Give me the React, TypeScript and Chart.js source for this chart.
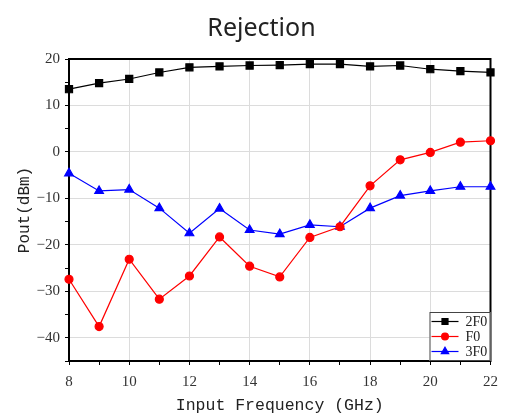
import React, { useEffect, useRef } from "react";
import { Chart, registerables } from "chart.js";
import { drawPoint } from "chart.js/helpers";

Chart.register(...registerables);

const frequencies = [8, 9, 10, 11, 12, 13, 14, 15, 16, 17, 18, 19, 20, 21, 22];
const series2F0 = [13.5, 14.8, 15.7, 17.1, 18.2, 18.4, 18.6, 18.7, 18.9, 18.9, 18.4, 18.6, 17.8, 17.4, 17.1];
const seriesF0 = [-27.4, -37.6, -23.1, -31.7, -26.7, -18.3, -24.6, -26.9, -18.4, -16.1, -7.3, -1.7, -0.1, 2.1, 2.4];
const series3F0 = [-4.6, -8.4, -8.1, -12.1, -17.5, -12.2, -16.8, -17.7, -15.7, -16.1, -12.1, -9.4, -8.4, -7.5, -7.5];
const seriesNames = ["2F0", "F0", "3F0"];

const frame = {
  id: "frame",
  beforeDatasetsDraw(chart: any) {
    const { ctx, chartArea } = chart;
    ctx.save();
    ctx.strokeStyle = "#000";
    ctx.lineWidth = 2;
    ctx.strokeRect(chartArea.left, chartArea.top, chartArea.right - chartArea.left, chartArea.bottom - chartArea.top);
    ctx.restore();
  },
};

const boxLegend = {
  id: "boxLegend",
  afterDraw(chart: any) {
    const { ctx, chartArea } = chart;
    const w = 61;
    const h = 49;
    const x0 = chartArea.right - w;
    const y0 = chartArea.bottom - h;
    ctx.save();
    ctx.fillStyle = "#fff";
    ctx.fillRect(x0, y0, w, h);
    ctx.strokeStyle = "#444";
    ctx.lineWidth = 1;
    ctx.strokeRect(x0 + 0.5, y0 + 0.5, w - 1, h - 1);
    chart.data.datasets.forEach((ds: any, i: number) => {
      const cy = y0 + 9.5 + i * 15;
      ctx.strokeStyle = ds.borderColor;
      ctx.lineWidth = ds.borderWidth;
      ctx.beginPath();
      ctx.moveTo(x0 + 2, cy);
      ctx.lineTo(x0 + 29, cy);
      ctx.stroke();
      ctx.fillStyle = ds.pointBackgroundColor;
      ctx.strokeStyle = ds.pointBorderColor;
      drawPoint(ctx, { pointStyle: ds.pointStyle, radius: ds.pointRadius * 0.85, rotation: 0, borderWidth: 1 }, x0 + 15.5, cy);
      ctx.fillStyle = "#222";
      ctx.font = "14px 'Liberation Serif'";
      ctx.textBaseline = "middle";
      ctx.textAlign = "left";
      ctx.fillText(seriesNames[i], x0 + 36, cy + 1);
    });
    ctx.restore();
  },
};

const fmt = (v: number) => (v < 0 ? "\u2212" + Math.abs(v) : String(v));

export default function App() {
  const ref = useRef<HTMLCanvasElement | null>(null);
  useEffect(() => {
    if (!ref.current) return;
    const mk = (vals: number[]) => frequencies.map((f, i) => ({ x: f, y: vals[i] }));
    const chart = new Chart(ref.current, {
      type: "line",
      data: {
        datasets: [
          {
            label: seriesNames[0],
            data: mk(series2F0),
            borderColor: "#000",
            backgroundColor: "#000",
            pointBackgroundColor: "#000",
            pointBorderColor: "#000",
            pointStyle: "rect",
            pointRadius: 5,
            borderWidth: 1.2,
            clip: false,
          },
          {
            label: seriesNames[1],
            data: mk(seriesF0),
            borderColor: "#ff0000",
            backgroundColor: "#ff0000",
            pointBackgroundColor: "#ff0000",
            pointBorderColor: "#ff0000",
            pointStyle: "circle",
            pointRadius: 4,
            borderWidth: 1.2,
            clip: false,
          },
          {
            label: seriesNames[2],
            data: mk(series3F0),
            borderColor: "#0000ff",
            backgroundColor: "#0000ff",
            pointBackgroundColor: "#0000ff",
            pointBorderColor: "#0000ff",
            pointStyle: "triangle",
            pointRadius: 5,
            borderWidth: 1.2,
            clip: false,
          },
        ] as any,
      },
      options: {
        responsive: false,
        animation: false,
        layout: { padding: { left: 17, right: 0, top: 0, bottom: 0 } },
        plugins: {
          legend: { display: false },
          tooltip: { enabled: false },
          title: {
            display: true,
            text: "Rejection",
            color: "#222",
            font: { family: "'Noto Sans'", size: 25, weight: "normal", lineHeight: 1.2 },
            padding: { top: 14, bottom: 15 },
          },
        },
        scales: {
          x: {
            type: "linear",
            min: 8,
            max: 22,
            border: { display: false },
            grid: {
              color: (c: any) => (c.tick && c.tick.value % 2 === 0 ? "#dcdcdc" : "rgba(0,0,0,0)"),
              tickColor: "#000",
              tickLength: 4,
              lineWidth: 1,
            },
            ticks: {
              stepSize: 1,
              autoSkip: false,
              maxRotation: 0,
              padding: 8,
              color: "#333",
              font: { family: "'Liberation Serif'", size: 15 },
              callback: (v: any) => (Number(v) % 2 === 0 ? String(v) : ""),
            },
            title: {
              display: true,
              text: "Input Frequency (GHz)",
              color: "#222",
              font: { family: "'Liberation Mono'", size: 16.5, lineHeight: 1 },
              padding: { top: 0, bottom: 0 },
            },
            afterFit: (s: any) => {
              s.height = 53;
            },
          },
          y: {
            type: "linear",
            min: -45,
            max: 20,
            border: { display: false },
            grid: {
              color: (c: any) => (c.tick && c.tick.value % 10 === 0 ? "#dcdcdc" : "rgba(0,0,0,0)"),
              tickColor: "#000",
              tickLength: 4,
              lineWidth: 1,
            },
            ticks: {
              stepSize: 5,
              autoSkip: false,
              padding: 5,
              color: "#333",
              font: { family: "'Liberation Serif'", size: 15 },
              callback: (v: any) => (Number(v) % 10 === 0 ? fmt(Number(v)) : ""),
            },
            title: {
              display: true,
              text: "Pout(dBm)",
              color: "#222",
              font: { family: "'Liberation Mono'", size: 16, lineHeight: 1 },
              padding: { top: 0, bottom: 0 },
            },
            afterFit: (s: any) => {
              s.width = 52;
            },
          },
          y2: {
            type: "linear",
            position: "right",
            display: true,
            border: { display: false },
            grid: { display: false },
            ticks: { display: false },
            afterFit: (s: any) => {
              s.width = 9;
            },
          },
        },
      } as any,
      plugins: [frame, boxLegend],
    });
    return () => chart.destroy();
  }, []);
  return (
    <canvas
      ref={ref}
      width={506}
      height={414}
      style={{ position: "fixed", left: 0, top: 0, width: 506, height: 414 }}
    />
  );
}
